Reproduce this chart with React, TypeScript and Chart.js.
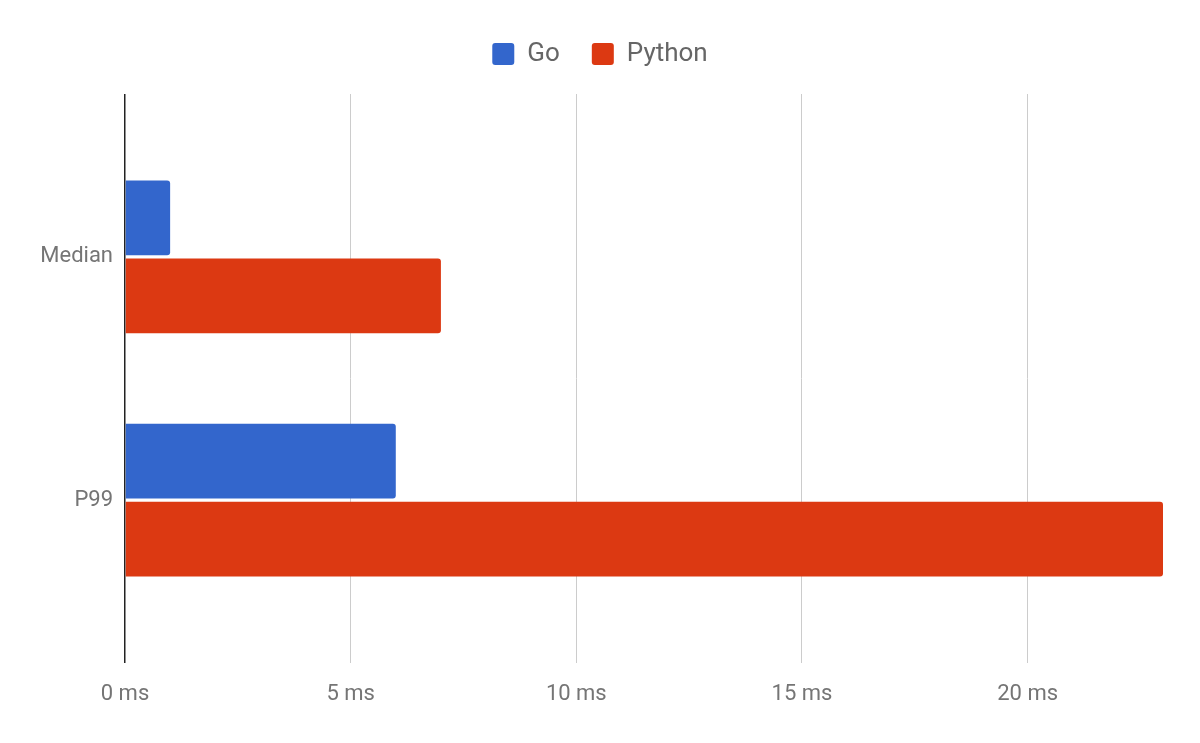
import { useEffect, useRef } from 'react';
import { Chart, registerables } from 'chart.js';

Chart.register(...registerables);

const categories = ['Median', 'P99'];
const goValues = [1, 6];
const pythonValues = [7, 23];
const xTicks = [0, 5, 10, 15, 20];

// extra space between legend and plot area
const legendGap = {
  id: 'legendGap',
  beforeLayout(chart: any) {
    const legend = chart.legend;
    if (!legend || legend._gapPatched) return;
    const fit = legend.fit;
    legend.fit = function () {
      fit.call(this);
      this.height += 17;
    };
    legend._gapPatched = true;
  },
};

export default function App() {
  const chartRef = useRef<HTMLCanvasElement>(null);
  const chartInstance = useRef<Chart | null>(null);

  useEffect(() => {
    if (!chartRef.current) return;
    if (chartInstance.current) chartInstance.current.destroy();
    const ctx = chartRef.current.getContext('2d');
    if (!ctx) return;

    Chart.defaults.font.family = 'Roboto';

    chartInstance.current = new Chart(ctx, {
      type: 'bar',
      data: {
        datasets: [
          {
            label: 'Go',
            data: categories.map((_, i) => ({ x: goValues[i], y: i })),
            backgroundColor: '#3366cc',
            borderRadius: 3,
            categoryPercentage: 0.641,
            barPercentage: 0.96,
          },
          {
            label: 'Python',
            data: categories.map((_, i) => ({ x: pythonValues[i], y: i })),
            backgroundColor: '#dc3912',
            borderRadius: 3,
            categoryPercentage: 0.641,
            barPercentage: 0.96,
          },
        ],
      },
      options: {
        indexAxis: 'y',
        animation: false,
        responsive: true,
        maintainAspectRatio: false,
        layout: { padding: { top: 1, right: 29, left: 29, bottom: 0 } },
        plugins: {
          legend: {
            position: 'top',
            labels: {
              boxWidth: 22,
              boxHeight: 22,
              useBorderRadius: true,
              borderRadius: 3,
              padding: 32,
              color: '#666',
              font: { size: 26 },
            },
          },
          tooltip: { enabled: false },
        },
        scales: {
          x: {
            type: 'linear',
            min: 0,
            max: 23,
            afterBuildTicks: (axis) => {
              axis.ticks = xTicks.map(v => ({ value: v }));
            },
            afterFit: (axis) => {
              axis.height = 72;
            },
            border: { display: false },
            grid: {
              drawTicks: false,
              color: (c) => (c.tick && c.tick.value === 0 ? '#222' : '#cccccc'),
              lineWidth: (c) => (c.tick && c.tick.value === 0 ? 1.5 : 1),
            },
            ticks: {
              padding: 18,
              color: '#757575',
              font: { size: 22 },
              callback: (v) => `${v} ms`,
            },
          },
          y: {
            type: 'linear',
            reverse: true,
            offset: false,
            min: -0.67,
            max: 1.67,
            afterBuildTicks: (axis) => {
              axis.ticks = categories.map((_, i) => ({ value: i }));
            },
            afterFit: (axis) => {
              axis.width = 88;
            },
            border: { display: false },
            grid: { display: false, drawTicks: false },
            ticks: {
              padding: 12,
              color: '#757575',
              font: { size: 22 },
              callback: (v) => categories[Number(v)] ?? '',
            },
          },
        },
      },
      plugins: [legendGap],
    });

    return () => {
      if (chartInstance.current) {
        chartInstance.current.destroy();
        chartInstance.current = null;
      }
    };
  }, []);

  return (
    <div style={{ width: 1184, height: 727, position: 'relative' }}>
      <canvas ref={chartRef} />
    </div>
  );
}
